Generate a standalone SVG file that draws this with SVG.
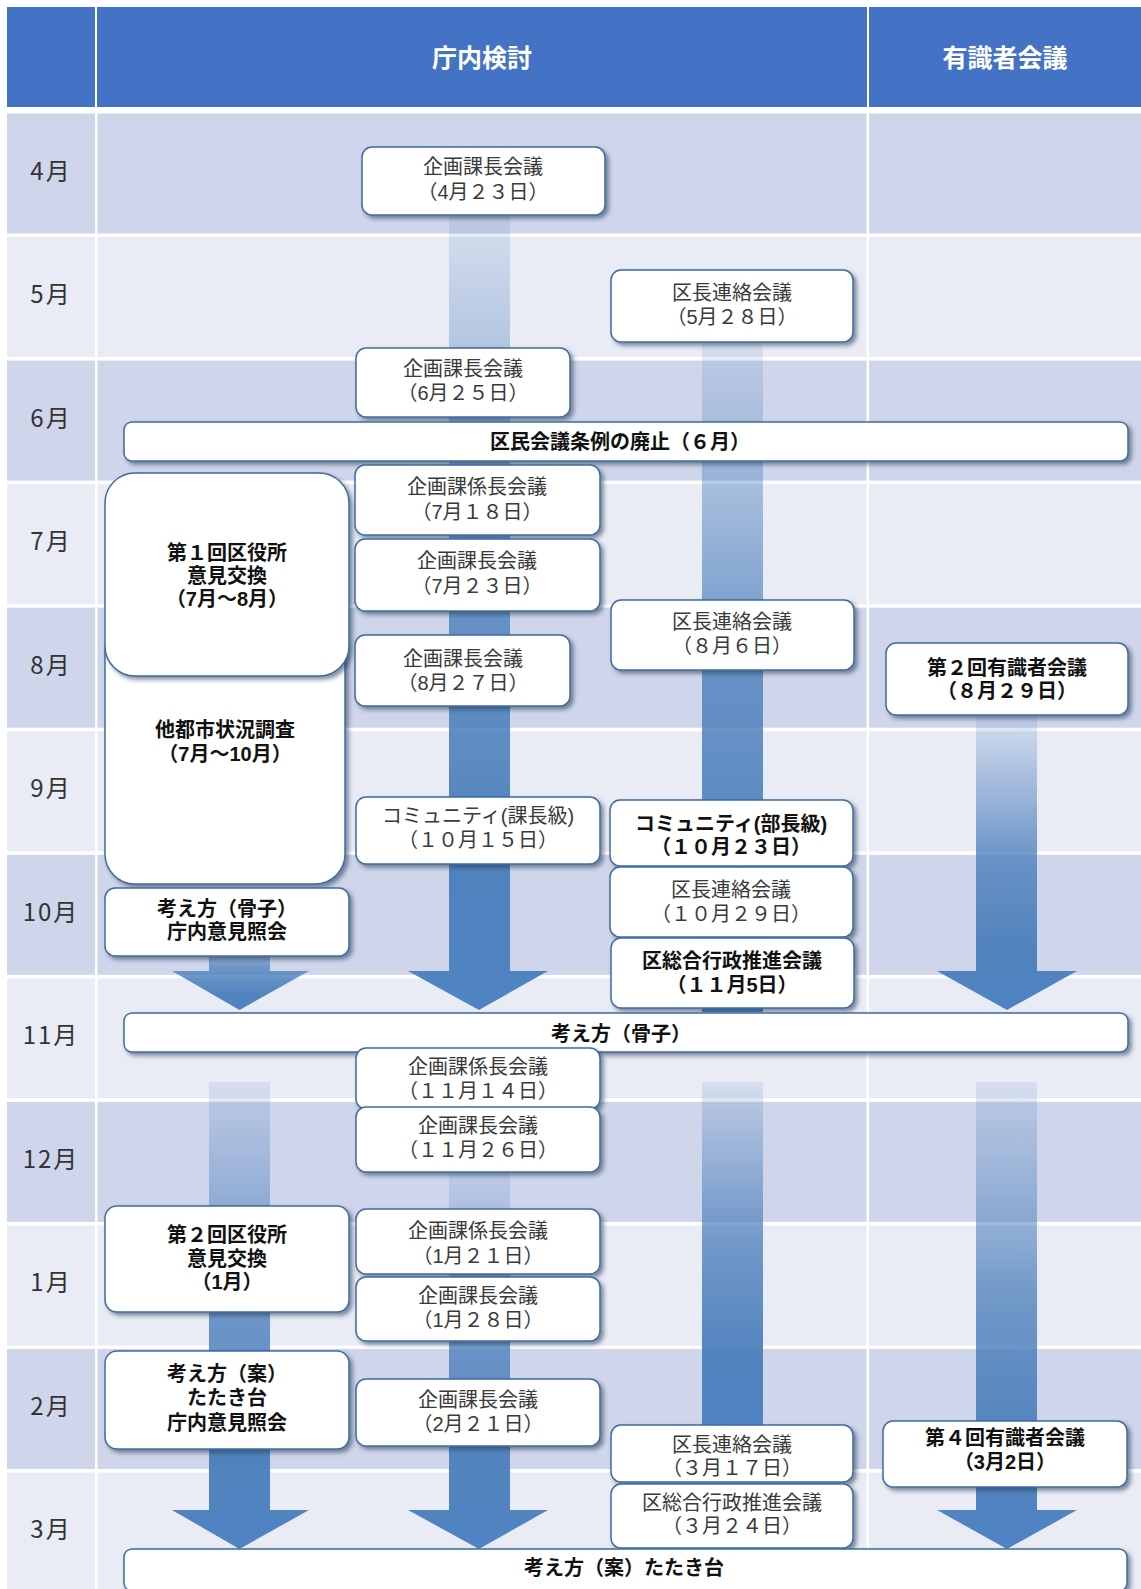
<svg xmlns="http://www.w3.org/2000/svg" width="1141" height="1589" viewBox="0 0 1141 1589">
<style>
.hd{fill:#4472c4}
.rd{fill:#cfd5ea}
.rl{fill:#e9ebf5}
.sep{fill:#ffffff}
.mon{font-family:"Noto Sans CJK JP","Noto Sans",sans-serif;font-size:24px;fill:#333;text-anchor:middle;dominant-baseline:central;letter-spacing:2px}
.ht{font-family:"Noto Sans CJK JP","Noto Sans",sans-serif;font-size:25px;font-weight:bold;fill:#fff;text-anchor:middle;dominant-baseline:central}
.box{fill:#fff;stroke:#3f6c9e;stroke-width:1.5;filter:url(#sh)}
.t{font-family:"Liberation Sans","Noto Sans CJK JP",sans-serif;font-size:20px;fill:#3a3a3a;text-anchor:middle;dominant-baseline:central;transform:translate(0px,3px)}
.b{font-family:"Liberation Sans","Noto Sans CJK JP",sans-serif;font-size:20px;font-weight:bold;fill:#111;text-anchor:middle;dominant-baseline:central;transform:translate(0px,3px)}
.arr{fill:url(#ag)}
</style>
<defs>
<filter id="sh" x="-10%" y="-20%" width="125%" height="150%">
<feDropShadow dx="3" dy="3" stdDeviation="2" flood-color="#1f3553" flood-opacity="0.55"/>
</filter>
<linearGradient id="ag" x1="0" y1="0" x2="0" y2="1">
<stop offset="0" stop-color="#4f81bd" stop-opacity="0.12"/>
<stop offset="0.45" stop-color="#4a7ebb" stop-opacity="0.75"/>
<stop offset="0.8" stop-color="#4a7ebb" stop-opacity="0.95"/>
<stop offset="1" stop-color="#4f83c2" stop-opacity="1"/>
</linearGradient>
</defs>
<rect width="1141" height="1589" fill="#fff"/>
<g id="grid">
<rect class="hd" x="7" y="7" width="88" height="100"/>
<rect class="hd" x="97" y="7" width="770" height="100"/>
<rect class="hd" x="869" y="7" width="272" height="100"/>
<text class="ht" x="482" y="56">庁内検討</text>
<text class="ht" x="1005" y="56">有識者会議</text>
<rect class="rd" x="7" y="113.5" width="1134" height="120"/>
<rect class="rl" x="7" y="237" width="1134" height="120"/>
<rect class="rd" x="7" y="360.6" width="1134" height="120"/>
<rect class="rl" x="7" y="484.2" width="1134" height="120"/>
<rect class="rd" x="7" y="607.7" width="1134" height="120"/>
<rect class="rl" x="7" y="731.3" width="1134" height="120"/>
<rect class="rd" x="7" y="854.8" width="1134" height="120"/>
<rect class="rl" x="7" y="978.4" width="1134" height="120"/>
<rect class="rd" x="7" y="1101.9" width="1134" height="120"/>
<rect class="rl" x="7" y="1225.5" width="1134" height="120"/>
<rect class="rd" x="7" y="1349" width="1134" height="120"/>
<rect class="rl" x="7" y="1472.6" width="1134" height="117"/>
<rect class="sep" x="95" y="107" width="2.5" height="1482"/>
<rect class="sep" x="866.5" y="107" width="2.5" height="1482"/>
<text class="mon" x="51" y="169">4月</text>
<text class="mon" x="51" y="292">5月</text>
<text class="mon" x="51" y="416">6月</text>
<text class="mon" x="51" y="539">7月</text>
<text class="mon" x="51" y="663">8月</text>
<text class="mon" x="51" y="786">9月</text>
<text class="mon" x="51" y="910">10月</text>
<text class="mon" x="51" y="1033">11月</text>
<text class="mon" x="51" y="1157">12月</text>
<text class="mon" x="51" y="1280">1月</text>
<text class="mon" x="51" y="1404">2月</text>
<text class="mon" x="51" y="1527">3月</text>
</g>
<g id="connectors">
<path class="arr" d="M209,935 H270 V971 H309 L239.5,1010 L172,971 H209 Z"/>
<path class="arr" d="M449,215 H510 V971 H548 L479,1010 L408,971 H449 Z"/>
<path class="arr" d="M702,342 H763 V1012 H702 Z"/>
<path class="arr" d="M976,715 H1037 V971 H1077 L1007,1010 L937,971 H976 Z"/>
<path class="arr" d="M209,1082 H270 V1510 H309 L239.5,1549 L172,1510 H209 Z"/>
<path class="arr" d="M449,1172 H510 V1510 H548 L479,1549 L408,1510 H449 Z"/>
<path class="arr" d="M702,1082 H763 V1430 H702 Z"/>
<path class="arr" d="M976,1082 H1037 V1510 H1077 L1007,1549 L937,1510 H976 Z"/>
</g>
<g id="n1"><rect class="box" x="362" y="147" width="243" height="68" rx="10"/><text class="t"><tspan x="483" y="164">企画課長会議</tspan><tspan x="483" y="189">（4月２３日）</tspan></text></g>
<g id="n2"><rect class="box" x="611" y="270" width="242" height="72" rx="10"/><text class="t"><tspan x="732" y="290">区長連絡会議</tspan><tspan x="732" y="314">（5月２８日）</tspan></text></g>
<g id="n3"><rect class="box" x="356" y="348" width="214" height="69" rx="10"/><text class="t"><tspan x="463" y="366">企画課長会議</tspan><tspan x="463" y="390">（6月２５日）</tspan></text></g>
<g id="n4"><rect class="box" x="124" y="422" width="1004" height="39" rx="8"/><text class="b" x="620" y="439">区民会議条例の廃止（６月）</text></g>
<g id="n11"><rect class="box" x="105" y="620" width="240" height="264" rx="30"/><text class="b"><tspan x="225" y="727">他都市状況調査</tspan><tspan x="225" y="751">（7月～10月）</tspan></text></g>
<g id="n5"><rect class="box" x="105" y="473" width="244" height="203" rx="30"/><text class="b"><tspan x="227" y="550">第１回区役所</tspan><tspan x="227" y="573">意見交換</tspan><tspan x="227" y="596">（7月～8月）</tspan></text></g>
<g id="n6"><rect class="box" x="355" y="465" width="245" height="70" rx="10"/><text class="t"><tspan x="477" y="484">企画課係長会議</tspan><tspan x="477" y="509">（7月１８日）</tspan></text></g>
<g id="n7"><rect class="box" x="355" y="539" width="245" height="72" rx="10"/><text class="t"><tspan x="477" y="558">企画課長会議</tspan><tspan x="477" y="583">（7月２３日）</tspan></text></g>
<g id="n8"><rect class="box" x="611" y="600" width="243" height="70" rx="10"/><text class="t"><tspan x="732" y="619">区長連絡会議</tspan><tspan x="732" y="643">（８月６日）</tspan></text></g>
<g id="n9"><rect class="box" x="355" y="635" width="215" height="71" rx="10"/><text class="t"><tspan x="463" y="656">企画課長会議</tspan><tspan x="463" y="680">（8月２７日）</tspan></text></g>
<g id="n10"><rect class="box" x="886" y="643" width="242" height="72" rx="10"/><text class="b"><tspan x="1007" y="665">第２回有識者会議</tspan><tspan x="1007" y="688">（８月２９日）</tspan></text></g>
<g id="n12"><rect class="box" x="356" y="797" width="244" height="67" rx="10"/><text class="t"><tspan x="478" y="813">コミュニティ(課長級)</tspan><tspan x="478" y="837">（１０月１５日）</tspan></text></g>
<g id="n13"><rect class="box" x="610" y="800" width="243" height="66" rx="10"/><text class="b"><tspan x="731" y="821">コミュニティ(部長級)</tspan><tspan x="731" y="844">（１０月２３日）</tspan></text></g>
<g id="n14"><rect class="box" x="610" y="867" width="243" height="70" rx="10"/><text class="t"><tspan x="731" y="887">区長連絡会議</tspan><tspan x="731" y="911">（１０月２９日）</tspan></text></g>
<g id="n15"><rect class="box" x="611" y="938" width="243" height="70" rx="10"/><text class="b"><tspan x="732" y="958">区総合行政推進会議</tspan><tspan x="732" y="982">（１１月5日）</tspan></text></g>
<g id="n16"><rect class="box" x="105" y="888" width="244" height="68" rx="10"/><text class="b"><tspan x="227" y="906">考え方（骨子）</tspan><tspan x="227" y="929">庁内意見照会</tspan></text></g>
<g id="n17"><rect class="box" x="124" y="1013" width="1004" height="39" rx="8"/><text class="b" x="621" y="1031">考え方（骨子）</text></g>
<g id="n18"><rect class="box" x="356" y="1048" width="244" height="61" rx="10"/><text class="t"><tspan x="478" y="1064">企画課係長会議</tspan><tspan x="478" y="1088">（１１月１４日）</tspan></text></g>
<g id="n19"><rect class="box" x="356" y="1107" width="244" height="65" rx="10"/><text class="t"><tspan x="478" y="1123">企画課長会議</tspan><tspan x="478" y="1147">（１１月２６日）</tspan></text></g>
<g id="n20"><rect class="box" x="105" y="1206" width="244" height="106" rx="12"/><text class="b"><tspan x="227" y="1232">第２回区役所</tspan><tspan x="227" y="1256">意見交換</tspan><tspan x="227" y="1279">（1月）</tspan></text></g>
<g id="n21"><rect class="box" x="356" y="1209" width="244" height="65" rx="10"/><text class="t"><tspan x="478" y="1228">企画課係長会議</tspan><tspan x="478" y="1253">（1月２１日）</tspan></text></g>
<g id="n22"><rect class="box" x="356" y="1277" width="244" height="64" rx="10"/><text class="t"><tspan x="478" y="1293">企画課長会議</tspan><tspan x="478" y="1317">（1月２８日）</tspan></text></g>
<g id="n23"><rect class="box" x="105" y="1351" width="244" height="98" rx="12"/><text class="b"><tspan x="227" y="1371">考え方（案）</tspan><tspan x="227" y="1395">たたき台</tspan><tspan x="227" y="1420">庁内意見照会</tspan></text></g>
<g id="n24"><rect class="box" x="356" y="1379" width="244" height="67" rx="10"/><text class="t"><tspan x="478" y="1397">企画課長会議</tspan><tspan x="478" y="1421">（2月２１日）</tspan></text></g>
<g id="n25"><rect class="box" x="611" y="1425" width="242" height="57" rx="10"/><text class="t"><tspan x="732" y="1442">区長連絡会議</tspan><tspan x="732" y="1465">（３月１７日）</tspan></text></g>
<g id="n26"><rect class="box" x="611" y="1484" width="242" height="64" rx="10"/><text class="t"><tspan x="732" y="1500">区総合行政推進会議</tspan><tspan x="732" y="1523">（３月２４日）</tspan></text></g>
<g id="n27"><rect class="box" x="883" y="1421" width="244" height="66" rx="10"/><text class="b"><tspan x="1005" y="1435">第４回有識者会議</tspan><tspan x="1005" y="1459">（3月2日）</tspan></text></g>
<g id="n28"><rect class="box" x="124" y="1549" width="1003" height="42" rx="8"/><text class="b" x="624" y="1565">考え方（案）たたき台</text></g>
</svg>
